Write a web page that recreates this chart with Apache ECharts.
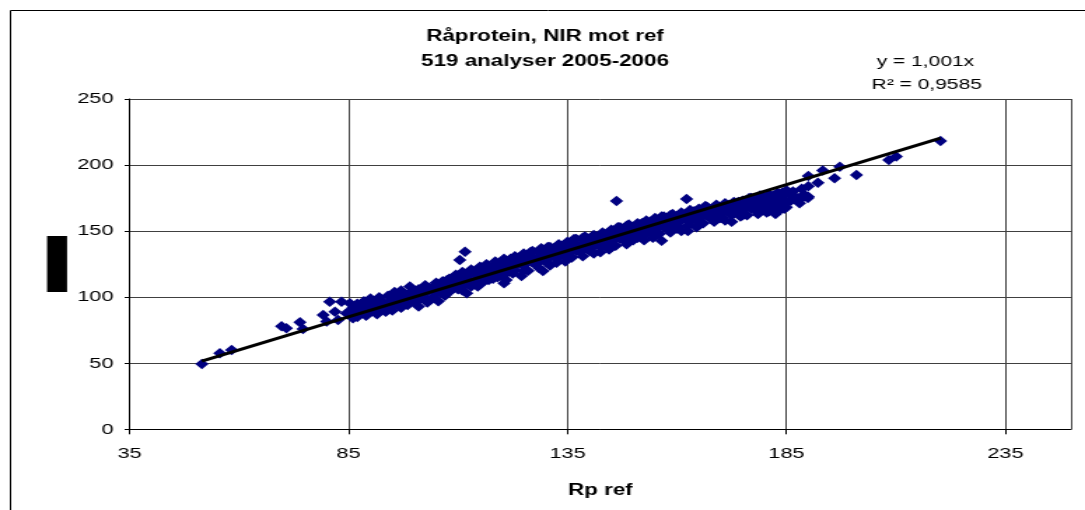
<!DOCTYPE html>
<html><head><meta charset="utf-8">
<script src="https://cdn.jsdelivr.net/npm/echarts@6/dist/echarts.min.js"></script>
<style>
html,body{margin:0;padding:0;background:#fff;overflow:hidden}
#wrap{width:1085px;height:510px;overflow:hidden}
#chart{width:775px;height:510px;transform:scaleX(1.4);transform-origin:0 0}
</style>
</head><body><div id="wrap"><div id="chart"></div></div>
<script>
// ---- data (Rp ref, Rp NIR) ----
const titleLines = ['Råprotein, NIR mot ref', '519 analyser 2005-2006'];
const xAxisName = 'Rp ref';
const trendSlope = 1.001;
const trendLabel = 'y = 1,001x';
const r2Label = 'R² = 0,9585';
const xTickMin = 35, xTickMax = 250, xTickStep = 50;
const yTickMin = 0, yTickMax = 250, yTickStep = 50;

const outliers = [
  [51.5,49.5],[55.6,57.5],[58.3,60],[69.7,78],[70.8,76.5],[73.9,81],[74.6,76],[79.2,86.5],
  [80,81.5],[80.7,96.5],[81.9,89],[82.6,82.7],[83.4,96.5],[84.5,87.8],[85.3,95.4],[86,84],
  [110.4,128.2],[111.6,134.4],[120.5,110.5],[129.4,119.8],[146.2,172.8],[156.5,142.8],
  [162.2,174.3],[183.5,166],[188,173.6],[189.9,175],[190,191.7],[192.2,186.7],[193.3,195.8],
  [196,190],[197.2,198.8],[201,192.5],[208.4,203.9],[210.1,206.4],[220.2,218.2]
];

const bandA = [
  [86,92],[86.5,88],[87,95],[87,85],[88,90],[88.5,97],[89,86],[89.5,93],[90,99],[90,89],[91,94],
  [91.5,87],[92,100],[92,92],[93,96],[93.5,89],[94,101],[94,93],[95,98],[95,90],[95.5,104],
  [96,95],[96.5,101],[97,92],[97,105],[98,99],[98.5,94],[99,103],[99,108],[100,97],[100.5,102],
  [101,106],[101,93],[102,100],[102.5,109],[103,104],[103,96],[104,107],[104.5,100],[105,111],
  [105,103],[105.5,97],[106,106],[106.5,112],[107,101],[107,109],[108,114],[108,104],[109,110],
  [109.5,117],[110,106],[110,113],[111,119],[111.5,109],[112,115],[112,103],[113,121],[113,111],
  [114,117],[114.5,108],[115,123],[115,114],[115.5,119],[116,112],[116.5,125],[117,117],[117,121],
  [118,114],[118.5,127],[119,119],[119,124],[120,116],[120.5,129],[121,122],[121,113],[122,126],
  [122.5,118],[123,131],[123,123],[124,127],[124.5,116],[125,133],[125,124],[125.5,129],[126,120],
  [126.5,132],[127,126],[127,135],[128,129],[128.5,122],[129,133],[129,137],[130,127],[130.5,131],
  [131,138],[131,124],[132,134],[132.5,129],[133,140],[133,131],[134,136],[134.5,127],[135,142],
  [135,133],[135.5,138],[136,130],[136.5,141],[137,135],[137,144],[138,138],[138.5,131],[139,142],
  [139,146],[140,135],[140.5,140],[141,147],[141,133],[142,143],[142.5,138],[143,149],[143,140],
  [144,145],[144.5,136],[145,151],[145,142],[145.5,147],[146,139],[146.5,150],[147,144],[147,153],
  [148,147],[148.5,140],[149,151],[149,155],[150,143],[150.5,149],[151,156],[151,145],[152,152],
  [152.5,147],[153,158],[153,149],[154,154],[154.5,145],[155,160],[155,151],[155.5,156],[156,148],
  [156.5,158],[157,153],[157,161],[158,156],[158.5,149],[159,160],[159,163],[160,152],[160.5,157],
  [161,164],[161,150],[162,159],[162.5,154],[163,166],[163,157],[164,162],[164.5,153],[165,167],
  [165,159],[165.5,163],[166,156],[166.5,166],[167,161],[167,168],[168,163],[168.5,157],[169,166],
  [169,170],[170,160],[170.5,164],[171,171],[171,158],[172,166],[172.5,162],[173,172],[173,164],
  [174,168],[174.5,161],[175,173],[175,166],[175.5,170],[176,162],[176.5,172],[177,167],[177,175],
  [178,170],[178.5,163],[179,174],[179,177],[180,166],[180.5,171],[181,178],[181,165],[182,173],
  [182.5,168],[183,179],[183,170],[184,176],[184.5,167],[185,181],[185,172],[186,177]
];

const bandB = [
  [85.5,90],[87.5,92],[88,94],[89,96],[90.5,91],[91,97],[92.5,95],[93,91],[94.5,97],[95,94],
  [96,99],[97.5,97],[98,102],[99.5,98],[100,105],[101.5,99],[102,103],[103.5,107],[104,99],
  [105,106],[106,109],[106.5,103],[107.5,113],[108,108],[109,107],[110,116],[110.5,110],[111,105],
  [112,118],[112.5,112],[113,108],[114,120],[114.5,114],[115,110],[116,118],[116.5,122],[117,113],
  [118,123],[118.5,120],[119,115],[120,126],[120.5,121],[121,118],[122,129],[122.5,124],[123,120],
  [124,130],[124.5,125],[125,120],[126,128],[126.5,134],[127,130],[128,125],[128.5,135],[129,129],
  [130,134],[130.5,138],[131,130],[132,137],[132.5,126],[133,134],[134,139],[134.5,133],[135,130],
  [136,136],[136.5,144],[137,139],[138,134],[138.5,145],[139,138],[140,144],[140.5,137],[141,141],
  [142,146],[142.5,134],[143,143],[144,148],[144.5,141],[145,138],[146,145],[146.5,153],[147,148],
  [148,143],[148.5,154],[149,147],[150,153],[150.5,145],[151,150],[152,156],[152.5,143],[153,153],
  [154,157],[154.5,150],[155,147],[156,154],[156.5,161],[157,157],[158,152],[158.5,162],[159,156],
  [160,161],[160.5,153],[161,158],[162,163],[162.5,150],[163,161],[164,165],[164.5,158],[165,155],
  [166,162],[166.5,169],[167,165],[168,159],[168.5,167],[169,162],[170,168],[170.5,160],[171,166],
  [172,170],[172.5,157],[173,168],[174,172],[174.5,165],[175,162],[176,168],[176.5,175],[177,171],
  [178,166],[178.5,173],[179,169],[180,175],[180.5,164],[181,170],[182,177],[182.5,163],[183,174],
  [184,179],[184.5,171],[185,168],[186,173],[186.5,180],[187,176],[188,171],[188.5,182],[189,178],
  [190,184],[190,176]
];

const samples = outliers.concat(bandA, bandB);

// ---- chart ----
const FONT = '"Liberation Sans", Arial, sans-serif';
const chart = echarts.init(document.getElementById('chart'), null, {renderer: 'canvas'});
const xs = samples.map(p => p[0]);
const xMin = Math.min.apply(null, xs), xMax = Math.max.apply(null, xs);
const trendData = [[xMin, trendSlope * xMin], [xMax, trendSlope * xMax]];

chart.setOption({
  animation: false,
  backgroundColor: '#fff',
  grid: {left: 92.6, right: 10, top: 99, bottom: 80.7, containLabel: false},
  xAxis: {
    type: 'value', min: xTickMin, max: xTickMax, interval: xTickStep,
    name: xAxisName, nameLocation: 'middle', nameGap: 53,
    nameTextStyle: {fontFamily: FONT, fontSize: 16, fontWeight: 'bold', color: '#000'},
    axisLine: {show: true, onZero: false, lineStyle: {color: '#000', width: 1}},
    axisTick: {show: true, inside: false, length: 5, lineStyle: {color: '#000'}},
    axisLabel: {fontFamily: FONT, fontSize: 15.5, color: '#000', margin: 16, showMaxLabel: false},
    splitLine: {show: true, lineStyle: {color: '#404040', width: 1}}
  },
  yAxis: {
    type: 'value', min: yTickMin, max: yTickMax, interval: yTickStep,
    axisLine: {show: true, onZero: false, lineStyle: {color: '#000', width: 1}},
    axisTick: {show: true, inside: false, length: 3.6, lineStyle: {color: '#000'}},
    axisLabel: {fontFamily: FONT, fontSize: 15.5, color: '#000', margin: 11.5},
    splitLine: {show: true, lineStyle: {color: '#404040', width: 1}}
  },
  graphic: [
    {type: 'rect', left: 5, top: 8, shape: {width: 768, height: 520}, style: {fill: 'none', stroke: '#000', lineWidth: 1}, silent: true},
    {type: 'rect', left: 33.6, top: 236, shape: {width: 14.3, height: 56}, style: {fill: '#000'}, silent: true},
    {type: 'text', x: 389.3, y: 37, style: {text: titleLines[0], font: 'bold 16px ' + FONT, fill: '#000', textAlign: 'center', textVerticalAlign: 'middle'}},
    {type: 'text', x: 389.3, y: 62, style: {text: titleLines[1], font: 'bold 16px ' + FONT, fill: '#000', textAlign: 'center', textVerticalAlign: 'middle'}},
    {type: 'text', x: 661, y: 62, style: {text: trendLabel, font: '15px ' + FONT, fill: '#000', textAlign: 'center', textVerticalAlign: 'middle'}},
    {type: 'text', x: 662, y: 85, style: {text: r2Label, font: '15px ' + FONT, fill: '#000', textAlign: 'center', textVerticalAlign: 'middle'}}
  ],
  series: [
    {type: 'scatter', data: samples, symbol: 'diamond', symbolSize: [9.5, 10.5],
     itemStyle: {color: '#000080', opacity: 1}, z: 2},
    {type: 'line', data: trendData, symbol: 'none', lineStyle: {color: '#000', width: 3}, z: 3, silent: true}
  ]
});
</script></body></html>
